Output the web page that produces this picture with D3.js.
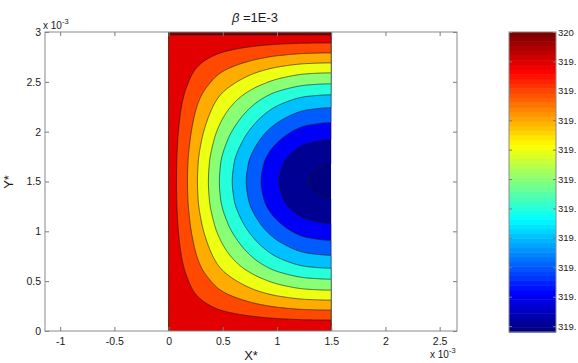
<!DOCTYPE html>
<html>
<head>
<meta charset="utf-8">
<script src="https://cdn.jsdelivr.net/npm/d3@7"></script>
<style>
  body { margin: 0; background: #fff; }
  text { font-family: "Liberation Sans", Arial, sans-serif; fill: #1a1a1a; }
</style>
</head>
<body>
<svg id="chart"></svg>
<script>
// contour levels and colour limits (temperature)
const levels = [319.90, 319.91, 319.92, 319.93, 319.94, 319.95, 319.96, 319.97, 319.98, 319.99, 320.00];
const tMin = 319.898;
const tMax = 320;

// temperature read along the mid line y = 1.5e-3 (x in 1e-3 units)
const midX = [0, 0.073, 0.174, 0.266, 0.367, 0.468, 0.587, 0.716, 0.853, 1.018, 1.29, 1.5];
const midT = [320, 319.99, 319.98, 319.97, 319.96, 319.95, 319.94, 319.93, 319.92, 319.91, 319.90, 319.898];

// temperature read along the right edge x = 1.5e-3 (y in 1e-3 units)
const edgeY = [0, 0.11, 0.21, 0.31, 0.41, 0.52, 0.63, 0.76, 0.91, 1.08, 1.33, 1.5,
  1.67, 1.92, 2.09, 2.24, 2.37, 2.48, 2.59, 2.69, 2.79, 2.89, 2.97, 3];
const edgeT = [320, 319.99, 319.98, 319.97, 319.96, 319.95, 319.94, 319.93, 319.92, 319.91, 319.90, 319.898,
  319.90, 319.91, 319.92, 319.93, 319.94, 319.95, 319.96, 319.97, 319.98, 319.99, 320.00, 320.003];

// axis ticks
const xTicks = [-1, -0.5, 0, 0.5, 1, 1.5, 2, 2.5];
const xTickLabels = ['-1', '-0.5', '0', '0.5', '1', '1.5', '2', '2.5'];
const yTicks = [0, 0.5, 1, 1.5, 2, 2.5, 3];
const yTickLabels = ['0', '0.5', '1', '1.5', '2', '2.5', '3'];
const cbTicks = [320, 319.99, 319.98, 319.97, 319.96, 319.95, 319.94, 319.93, 319.92, 319.91, 319.90];
const cbTickLabels = ['320', '319.', '319.', '319.', '319.', '319.', '319.', '319.', '319.', '319.', '319.'];

const width = 578, height = 363;

// matlab jet colormap
function jet(t) {
  const c = v => Math.max(0, Math.min(1, v)) * 255;
  return d3.rgb(c(1.5 - Math.abs(4 * t - 3)), c(1.5 - Math.abs(4 * t - 2)), c(1.5 - Math.abs(4 * t - 1))).toString();
}

// smooth monotone (Fritsch-Carlson) interpolation through the read points
function monotone(xs, ys) {
  const n = xs.length;
  const d = [], m = new Array(n);
  for (let i = 0; i < n - 1; i++) d.push((ys[i + 1] - ys[i]) / (xs[i + 1] - xs[i]));
  m[0] = d[0];
  m[n - 1] = d[n - 2];
  for (let i = 1; i < n - 1; i++) {
    if (d[i - 1] * d[i] <= 0) { m[i] = 0; continue; }
    const h0 = xs[i] - xs[i - 1], h1 = xs[i + 1] - xs[i];
    m[i] = 3 * (h0 + h1) / ((2 * h1 + h0) / d[i - 1] + (h1 + 2 * h0) / d[i]);
  }
  return function (v) {
    let i = Math.min(n - 2, Math.max(0, d3.bisectRight(xs, v) - 1));
    const h = xs[i + 1] - xs[i], t = (v - xs[i]) / h;
    const t2 = t * t, t3 = t2 * t;
    return (2 * t3 - 3 * t2 + 1) * ys[i] + (t3 - 2 * t2 + t) * h * m[i]
      + (-2 * t3 + 3 * t2) * ys[i + 1] + (t3 - t2) * h * m[i + 1];
  };
}

const svg = d3.select('#chart')
  .attr('width', width)
  .attr('height', height);

svg.append('rect').attr('width', width).attr('height', height).attr('fill', '#fff');

const x = d3.scaleLinear().domain([-1.14, 2.66]).range([45, 457]);
const y = d3.scaleLinear().domain([0, 3]).range([331, 32]);
const tc = d3.scaleLinear().domain([tMin, tMax]).range([0, 1]);

// build the field on a grid from the two profiles (x = 1.5 is a symmetry line)
const step = 0.01;
const nx = Math.round(1.5 / step);
const ny = Math.round(3 / step);
const midFull = midX.concat(midX.slice(0, -1).reverse().map(v => 3 - v));
const midFullT = midT.concat(midT.slice(0, -1).reverse());
const midFn = monotone(midFull, midFullT);
const edgeFn = monotone(edgeY, edgeT);
const span = tMax - tMin;
const values = new Array(nx * ny);
for (let j = 0; j < ny; j++) {
  const q = (tMax - edgeFn(3 - (j + 0.5) * step)) / span;
  for (let i = 0; i < nx; i++) {
    const p = (tMax - midFn((i + 0.5) * step)) / span;
    values[j * nx + i] = tMax - span * p * q;
  }
}

const thresholds = [tMin].concat(levels);
const contours = d3.contours().size([nx, ny]).thresholds(thresholds)(values);

const proj = d3.geoTransform({
  point: function (px, py) {
    this.stream.point(x(px * step), y(3 - py * step));
  }
});
const path = d3.geoPath(proj);

svg.append('clipPath').attr('id', 'field')
  .append('rect')
  .attr('x', x(0)).attr('y', y(3))
  .attr('width', x(1.5) - x(0)).attr('height', y(0) - y(3));

const field = svg.append('g').attr('clip-path', 'url(#field)');

field.selectAll('path.band')
  .data(contours)
  .enter()
  .append('path')
  .attr('class', 'band')
  .attr('d', path)
  .attr('fill', d => jet(tc(d.value)))
  .attr('stroke', (d, i) => i === 0 ? 'none' : '#1a1a1a')
  .attr('stroke-width', 0.6);

// axes box
const tickColor = '#7a7a7a';
function styleAxis(g) {
  g.select('.domain').remove();
  g.selectAll('.tick line').attr('stroke', tickColor);
  g.selectAll('.tick text').attr('font-size', 10.5).attr('fill', '#1a1a1a')
    .attr('font-family', '"Liberation Sans", Arial, sans-serif');
}

svg.append('g')
  .attr('transform', 'translate(0,' + y(0) + ')')
  .call(d3.axisBottom(x).tickValues(xTicks).tickFormat((d, i) => xTickLabels[i]).tickSize(-4).tickPadding(7))
  .call(styleAxis);
svg.append('g')
  .attr('transform', 'translate(0,' + y(3) + ')')
  .call(d3.axisTop(x).tickValues(xTicks).tickFormat('').tickSize(-4))
  .call(styleAxis);
svg.append('g')
  .attr('transform', 'translate(' + x.range()[0] + ',0)')
  .call(d3.axisLeft(y).tickValues(yTicks).tickFormat((d, i) => yTickLabels[i]).tickSize(-4).tickPadding(4))
  .call(styleAxis);
svg.append('g')
  .attr('transform', 'translate(' + x.range()[1] + ',0)')
  .call(d3.axisRight(y).tickValues(yTicks).tickFormat('').tickSize(-4))
  .call(styleAxis);

svg.append('rect')
  .attr('x', x.range()[0]).attr('y', y(3))
  .attr('width', x.range()[1] - x.range()[0]).attr('height', y(0) - y(3))
  .attr('fill', 'none').attr('stroke', '#8a8a8a').attr('stroke-width', 1);

// exponent labels
function expLabel(px, py) {
  const t = svg.append('text').attr('x', px).attr('y', py).attr('font-size', 10);
  t.append('tspan').text('x 10');
  t.append('tspan').attr('dy', -5).attr('font-size', 7.5).text('-3');
}
expLabel(43, 29);
expLabel(430, 358);

// titles
const title = svg.append('text')
  .attr('x', 255).attr('y', 22)
  .attr('text-anchor', 'middle')
  .attr('font-size', 13);
title.append('tspan').attr('font-style', 'italic').text('β');
title.append('tspan').text(' =1E-3');

svg.append('text')
  .attr('x', 251).attr('y', 360)
  .attr('text-anchor', 'middle')
  .attr('font-size', 13)
  .text('X*');

svg.append('text')
  .attr('transform', 'translate(13,182) rotate(-90)')
  .attr('text-anchor', 'middle')
  .attr('font-size', 13)
  .text('Y*');

// colorbar
const cbX0 = 509, cbX1 = 556;
const cy = d3.scaleLinear().domain([tMin, tMax]).range([332, 32]);
const nColors = 64;
const cbSteps = d3.range(nColors);
svg.append('g')
  .selectAll('rect')
  .data(cbSteps)
  .enter()
  .append('rect')
  .attr('x', cbX0)
  .attr('width', cbX1 - cbX0)
  .attr('y', d => cy(tMin + (d + 1) * span / nColors))
  .attr('height', d => cy(tMin + d * span / nColors) - cy(tMin + (d + 1) * span / nColors) + 0.5)
  .attr('fill', d => jet(d / (nColors - 1)));

svg.append('g')
  .attr('transform', 'translate(' + cbX1 + ',0)')
  .call(d3.axisRight(cy).tickValues(cbTicks).tickFormat((d, i) => cbTickLabels[i]).tickSize(-3).tickPadding(2))
  .call(styleAxis)
  .call(g => g.selectAll('.tick text').attr('font-size', 9.5));
svg.append('g')
  .attr('transform', 'translate(' + cbX0 + ',0)')
  .call(d3.axisLeft(cy).tickValues(cbTicks).tickFormat('').tickSize(-3))
  .call(styleAxis);

svg.append('rect')
  .attr('x', cbX0).attr('y', 32)
  .attr('width', cbX1 - cbX0).attr('height', 300)
  .attr('fill', 'none').attr('stroke', '#8a8a8a').attr('stroke-width', 1);
</script>
</body>
</html>
